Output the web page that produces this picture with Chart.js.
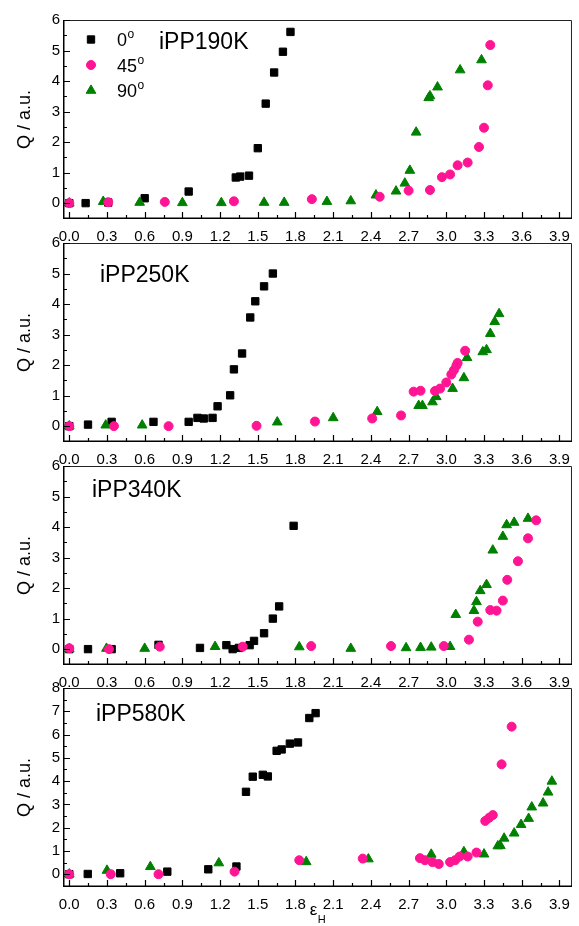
<!DOCTYPE html>
<html>
<head>
<meta charset="utf-8">
<script src="https://cdn.jsdelivr.net/npm/chart.js@4.4.1/dist/chart.umd.min.js"></script>
<style>
  html, body { margin: 0; padding: 0; background: #fff; }
  #wrap { position: relative; width: 579px; height: 926px; overflow: hidden; }
  #wrap canvas { position: absolute; left: 0; }
</style>
</head>
<body>
<div id="wrap">
  <canvas id="c190" width="579" height="246" style="top:0px"></canvas>
  <canvas id="c250" width="579" height="246" style="top:223px"></canvas>
  <canvas id="c340" width="579" height="246" style="top:446px"></canvas>
  <canvas id="c580" width="579" height="258" style="top:668px"></canvas>
</div>
<script>
// === AXES ===
const X_TICKS = [0.0, 0.3, 0.6, 0.9, 1.2, 1.5, 1.8, 2.1, 2.4, 2.7, 3.0, 3.3, 3.6, 3.9];
const Y_TICKS_6 = [0, 1, 2, 3, 4, 5, 6];
const Y_TICKS_8 = [0, 1, 2, 3, 4, 5, 6, 7, 8];
const ANGLES = ['0', '45', '90'];

// === iPP190K ===
const p190_0_x = [0, 0.13, 0.31, 0.60, 0.95, 1.325, 1.36, 1.43, 1.50, 1.563, 1.63, 1.70, 1.76];
const p190_0_y = [0, 0, 0.02, 0.16, 0.38, 0.84, 0.87, 0.90, 1.80, 3.26, 4.28, 4.96, 5.61];
const p190_45_x = [0, 0.31, 0.76, 1.31, 1.93, 2.47, 2.70, 2.87, 2.965, 3.03, 3.09, 3.17, 3.26, 3.30, 3.33, 3.35];
const p190_45_y = [0, 0.03, 0.04, 0.06, 0.13, 0.21, 0.41, 0.43, 0.85, 0.94, 1.24, 1.33, 1.84, 2.47, 3.86, 5.18];
const p190_90_x = [0, 0.27, 0.56, 0.90, 1.21, 1.55, 1.71, 2.05, 2.24, 2.44, 2.60, 2.67, 2.71, 2.76, 2.86, 2.87, 2.93, 3.11, 3.28];
const p190_90_y = [0, 0.05, 0.02, 0.01, 0.01, 0.02, 0.02, 0.05, 0.07, 0.26, 0.39, 0.65, 1.07, 2.32, 3.45, 3.51, 3.80, 4.36, 4.69];

// === iPP250K ===
const p250_0_x = [0, 0.149, 0.337, 0.67, 0.95, 1.02, 1.07, 1.14, 1.18, 1.28, 1.31, 1.375, 1.44, 1.48, 1.55, 1.62];
const p250_0_y = [0, 0.05, 0.14, 0.14, 0.14, 0.27, 0.25, 0.27, 0.65, 1.01, 1.86, 2.38, 3.56, 4.09, 4.58, 5.00];
const p250_45_x = [0, 0.355, 0.79, 1.49, 1.955, 2.41, 2.64, 2.74, 2.795, 2.91, 2.95, 3.00, 3.04, 3.06, 3.08, 3.09, 3.15];
const p250_45_y = [0, 0, 0, 0.01, 0.15, 0.25, 0.35, 1.13, 1.16, 1.15, 1.23, 1.43, 1.69, 1.83, 1.98, 2.07, 2.47];
const p250_90_x = [0, 0.29, 0.58, 1.655, 2.10, 2.45, 2.78, 2.81, 2.89, 2.92, 3.05, 3.14, 3.165, 3.29, 3.32, 3.35, 3.385, 3.42];
const p250_90_y = [0, 0.03, 0.03, 0.13, 0.27, 0.47, 0.67, 0.67, 0.79, 0.96, 1.23, 1.58, 2.24, 2.43, 2.50, 3.03, 3.42, 3.68];

// === iPP340K ===
const p340_0_x = [0, 0.149, 0.337, 0.71, 1.04, 1.25, 1.30, 1.35, 1.435, 1.47, 1.55, 1.62, 1.67, 1.785];
const p340_0_y = [0, 0, 0, 0.14, 0.04, 0.13, 0, 0.04, 0.13, 0.27, 0.52, 1.00, 1.40, 4.04];
const p340_45_x = [0, 0.316, 0.72, 1.38, 1.925, 2.56, 2.98, 3.18, 3.25, 3.35, 3.40, 3.45, 3.485, 3.57, 3.65, 3.715];
const p340_45_y = [0.03, 0, 0.08, 0.08, 0.10, 0.10, 0.10, 0.31, 0.90, 1.28, 1.26, 1.59, 2.27, 2.88, 3.63, 4.22];
const p340_90_x = [0, 0.296, 0.60, 1.16, 1.83, 2.24, 2.68, 2.795, 2.88, 3.03, 3.075, 3.22, 3.24, 3.27, 3.32, 3.37, 3.45, 3.48, 3.54, 3.65];
const p340_90_y = [0, 0.02, 0.02, 0.08, 0.07, 0.02, 0.04, 0.05, 0.06, 0.08, 1.13, 1.26, 1.55, 1.91, 2.11, 3.24, 3.69, 4.07, 4.15, 4.28];

// === iPP580K ===
const p580_0_x = [0, 0.147, 0.405, 0.78, 1.106, 1.33, 1.406, 1.46, 1.54, 1.58, 1.65, 1.69, 1.755, 1.82, 1.91, 1.96];
const p580_0_y = [0, 0.01, 0.04, 0.11, 0.21, 0.33, 3.54, 4.19, 4.27, 4.20, 5.30, 5.36, 5.61, 5.66, 6.71, 6.92];
const p580_45_x = [0, 0.33, 0.71, 1.315, 1.83, 2.335, 2.79, 2.83, 2.89, 2.94, 3.03, 3.07, 3.106, 3.17, 3.24, 3.31, 3.34, 3.37, 3.44, 3.52];
const p580_45_y = [0, 0, 0, 0.11, 0.60, 0.67, 0.69, 0.60, 0.52, 0.44, 0.52, 0.60, 0.76, 0.76, 0.93, 2.29, 2.42, 2.54, 4.72, 6.34];
const p580_90_x = [0, 0.30, 0.645, 1.19, 1.885, 2.38, 2.88, 3.14, 3.30, 3.41, 3.43, 3.46, 3.54, 3.595, 3.655, 3.68, 3.77, 3.81, 3.84];
const p580_90_y = [0, 0.16, 0.32, 0.48, 0.53, 0.65, 0.85, 0.96, 0.86, 1.21, 1.22, 1.54, 1.76, 2.13, 2.39, 2.88, 3.05, 3.52, 3.99];

// === STYLE ===
const FONT = "'Liberation Sans', Arial, sans-serif";
// black squares under, pink circles on top (lower order is drawn last)
const MARKERS = [
  { pointStyle: 'rect',     color: '#000000', radius: 5.2, order: 3 },
  { pointStyle: 'circle',   color: '#ff1493', radius: 4.5, order: 1 },
  { pointStyle: 'triangle', color: '#008000', radius: 5.6, order: 2 }
];

function pts(xs, ys) {
  return xs.map((x, i) => ({ x: x, y: ys[i] }));
}

function datasets(list) {
  return list.map((s, i) => ({
    label: ANGLES[i],
    data: pts(s[0], s[1]),
    showLine: false,
    pointStyle: MARKERS[i].pointStyle,
    pointRadius: MARKERS[i].radius,
    pointBackgroundColor: MARKERS[i].color,
    pointBorderColor: MARKERS[i].color,
    pointBorderWidth: 1,
    order: MARKERS[i].order
  }));
}

// frame, inward ticks, sample name, legend, x title
const deco = {
  id: 'deco',
  afterDraw(chart, args, o) {
    const { ctx, chartArea: a } = chart;
    const sx = chart.scales.x, sy = chart.scales.y;
    ctx.save();

    // top / right border
    ctx.strokeStyle = '#222';
    ctx.lineWidth = 1;
    ctx.beginPath();
    ctx.moveTo(a.left, a.top + 0.5);
    ctx.lineTo(a.right - 0.5, a.top + 0.5);
    ctx.lineTo(a.right - 0.5, a.bottom);
    ctx.stroke();

    // left / bottom axis
    ctx.strokeStyle = '#000';
    ctx.lineWidth = 1.5;
    ctx.beginPath();
    ctx.moveTo(a.left + 0.75, a.top);
    ctx.lineTo(a.left + 0.75, a.bottom - 0.75);
    ctx.lineTo(a.right, a.bottom - 0.75);
    ctx.stroke();

    // ticks
    ctx.lineWidth = 1.2;
    ctx.beginPath();
    X_TICKS.forEach(v => {
      const px = Math.round(sx.getPixelForValue(v)) + 0.5;
      ctx.moveTo(px, a.bottom); ctx.lineTo(px, a.bottom - 7);
      const m = v + 0.15;
      if (m < sx.max) {
        const pm = Math.round(sx.getPixelForValue(m)) + 0.5;
        ctx.moveTo(pm, a.bottom); ctx.lineTo(pm, a.bottom - 4);
      }
    });
    o.yTicks.forEach(v => {
      const py = Math.round(sy.getPixelForValue(v)) + 0.5;
      ctx.moveTo(a.left, py); ctx.lineTo(a.left + 7, py);
      const m = v + 0.5;
      if (m < sy.max) {
        const pm = Math.round(sy.getPixelForValue(m)) + 0.5;
        ctx.moveTo(a.left, pm); ctx.lineTo(a.left + 4, pm);
      }
    });
    ctx.stroke();

    // sample name
    ctx.fillStyle = '#000';
    ctx.textBaseline = 'alphabetic';
    ctx.textAlign = 'left';
    ctx.font = '23px ' + FONT;
    ctx.fillText(o.label, a.left + o.labelX, a.top + o.labelY);

    // legend
    if (o.legend) {
      MARKERS.forEach((m, i) => {
        const cy = a.top + 19.5 + i * 25.5;
        ctx.fillStyle = m.color;
        ctx.strokeStyle = m.color;
        ctx.lineWidth = 1;
        Chart.helpers.drawPoint(ctx, { pointStyle: m.pointStyle, radius: m.radius, rotation: 0, borderWidth: 1 }, a.left + 28, cy);
        ctx.fillStyle = '#000';
        ctx.font = '18px ' + FONT;
        ctx.fillText(ANGLES[i], a.left + 54, cy + 6.5);
        const w = ctx.measureText(ANGLES[i]).width;
        ctx.font = '12px ' + FONT;
        ctx.fillText('o', a.left + 54.5 + w, cy - 1.5);
      });
    }

    // x title: epsilon with subscript H
    if (o.xTitle) {
      const cx = (a.left + a.right) / 2;
      ctx.fillStyle = '#000';
      ctx.font = '17px ' + FONT;
      const we = ctx.measureText('ε').width;
      ctx.font = '11px ' + FONT;
      const wh = ctx.measureText('H').width;
      const x0 = cx - (we + wh) / 2;
      ctx.font = '17px ' + FONT;
      ctx.fillText('ε', x0, a.bottom + 28);
      ctx.font = '11px ' + FONT;
      ctx.fillText('H', x0 + we + 0.5, a.bottom + 36);
    }
    ctx.restore();
  }
};

function makePanel(id, label, series, yTicks, yMin, yMax, xHeight, labelX, labelY, extra) {
  return new Chart(document.getElementById(id), {
    type: 'scatter',
    data: { datasets: datasets(series) },
    options: {
      responsive: false,
      animation: false,
      events: [],
      layout: { padding: { top: 20, left: 0, right: 1, bottom: 0 } },
      plugins: {
        legend: { display: false },
        tooltip: { enabled: false },
        deco: Object.assign({ label: label, yTicks: yTicks, labelX: labelX, labelY: labelY }, extra)
      },
      scales: {
        x: {
          type: 'linear',
          min: -0.05,
          max: 4.0,
          grid: { display: false, drawTicks: false },
          border: { display: false },
          afterBuildTicks: s => { s.ticks = X_TICKS.map(v => ({ value: v })); },
          afterFit: s => { s.height = xHeight; },
          ticks: {
            autoSkip: false,
            maxRotation: 0,
            padding: 9,
            color: '#000',
            font: { family: FONT, size: 15 },
            callback: v => Number(v).toFixed(1)
          }
        },
        y: {
          type: 'linear',
          min: yMin,
          max: yMax,
          grid: { display: false, drawTicks: false },
          border: { display: false },
          afterBuildTicks: s => { s.ticks = yTicks.map(v => ({ value: v })); },
          afterFit: s => { s.width = 63; },
          title: {
            display: true,
            text: 'Q / a.u.',
            color: '#000',
            font: { family: FONT, size: 18 },
            padding: { top: 14, bottom: 0 }
          },
          ticks: {
            padding: 3,
            color: '#000',
            font: { family: FONT, size: 15 }
          }
        }
      }
    },
    plugins: [deco]
  });
}

// === INIT ===
makePanel('c190', 'iPP190K',
  [[p190_0_x, p190_0_y], [p190_45_x, p190_45_y], [p190_90_x, p190_90_y]],
  Y_TICKS_6, -0.52, 6, 27, 96, 29, { legend: true });
makePanel('c250', 'iPP250K',
  [[p250_0_x, p250_0_y], [p250_45_x, p250_45_y], [p250_90_x, p250_90_y]],
  Y_TICKS_6, -0.52, 6, 27, 37, 39, {});
makePanel('c340', 'iPP340K',
  [[p340_0_x, p340_0_y], [p340_45_x, p340_45_y], [p340_90_x, p340_90_y]],
  Y_TICKS_6, -0.52, 6, 27, 29, 31, {});
makePanel('c580', 'iPP580K',
  [[p580_0_x, p580_0_y], [p580_45_x, p580_45_y], [p580_90_x, p580_90_y]],
  Y_TICKS_8, -0.55, 8, 39, 33, 33, { xTitle: true });
</script>
</body>
</html>
